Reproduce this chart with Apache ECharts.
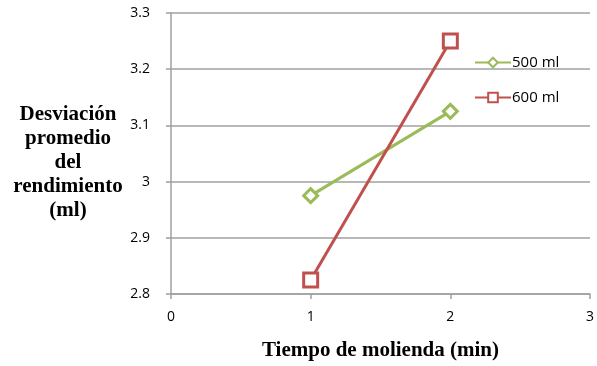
<!DOCTYPE html>
<html><head><meta charset="utf-8">
<script src="https://cdn.jsdelivr.net/npm/echarts@6/dist/echarts.min.js"></script>
<style>html,body{margin:0;padding:0;background:#fff}#c{width:597px;height:366px}</style>
</head><body><div id="c"></div>
<script>
const seriesNames = ['500 ml', '600 ml'];
const xValues = [1, 2];
const values500 = [2.975, 3.125];
const values600 = [2.825, 3.25];
const yTitleLines = ['Desviación', 'promedio', 'del', 'rendimiento', '(ml)'];
const xTitle = 'Tiempo de molienda (min)';

const chart = echarts.init(document.getElementById('c'), null, {renderer: 'canvas'});
const gray = '#a0a0a0';
const labelFont = {color: '#000', fontSize: 14, fontFamily: 'Open Sans'};
chart.setOption({
  animation: false,
  backgroundColor: '#fff',
  grid: {left: 171, right: 6, top: 13, bottom: 67},
  xAxis: {
    type: 'value', min: 0, max: 3, interval: 1,
    axisLine: {show: true, lineStyle: {color: gray, width: 1.5}},
    axisTick: {show: true, length: 5, lineStyle: {color: gray, width: 1.5}},
    splitLine: {show: false},
    axisLabel: Object.assign({margin: 16}, labelFont),
    name: xTitle, nameLocation: 'middle', nameGap: 46,
    nameTextStyle: {fontFamily: 'Liberation Serif', fontWeight: 'bold', fontSize: 21, color: '#000'}
  },
  yAxis: {
    type: 'value', min: 2.8, max: 3.3, interval: 0.1,
    axisLine: {show: true, lineStyle: {color: gray, width: 1.5}},
    axisTick: {show: true, inside: false, length: 5, lineStyle: {color: gray, width: 1.5}},
    splitLine: {show: true, lineStyle: {color: gray, width: 1.5}},
    axisLabel: Object.assign({margin: 21, formatter: v => String(Math.round(v*10)/10)}, labelFont)
  },
  legend: {
    orient: 'vertical', left: 469, top: 50, itemGap: 20,
    itemWidth: 36, itemHeight: 12,
    textStyle: {fontFamily: 'Open Sans', fontSize: 15, color: '#000', padding: [0,0,0,-4]},
    data: seriesNames
  },
  graphic: [{
    type: 'text',
    style: {
      text: yTitleLines.join('\n'), x: 68, y: 163,
      textAlign: 'center', textVerticalAlign: 'middle',
      font: 'bold 21px "Liberation Serif"', lineHeight: 24, fill: '#000'
    }
  }],
  series: [
    {name: seriesNames[0], type: 'line', data: xValues.map((x,i)=>[x, values500[i]]),
     symbol: 'diamond', symbolSize: 14,
     lineStyle: {color: '#9bbb59', width: 3},
     itemStyle: {color: '#fff', borderColor: '#9bbb59', borderWidth: 3},
     color: '#9bbb59'},
    {name: seriesNames[1], type: 'line', data: xValues.map((x,i)=>[x, values600[i]]),
     symbol: 'rect', symbolSize: 14,
     lineStyle: {color: '#c0504d', width: 3},
     itemStyle: {color: '#fff', borderColor: '#c0504d', borderWidth: 3},
     color: '#c0504d'}
  ]
});
</script></body></html>
